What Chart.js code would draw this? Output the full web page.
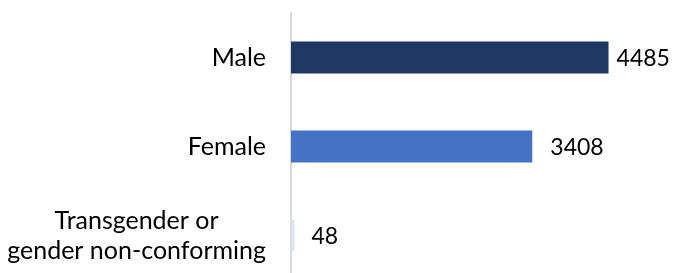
<!DOCTYPE html>
<html>
<head>
<meta charset="utf-8">
<script src="https://cdn.jsdelivr.net/npm/chart.js@4/dist/chart.umd.min.js"></script>
<style>
    html, body { margin: 0; padding: 0; background: #fff; overflow: hidden; }
    #wrap { position: relative; width: 683px; height: 280px; }
</style>
</head>
<body>
<div id="wrap"><canvas id="genderChart"></canvas></div>
<script>
const categories = [
    ['Male'],
    ['Female'],
    ['Transgender or', 'gender non-conforming'],
];

const counts = [4485, 3408, 48];

const barColors = ['#203864', '#4472C4', '#DAE3F3'];

// distance between bar end and its value label (as in the original)
const labelGaps = [8, 18, 17];

const fontFamily = 'Lato, "Open Sans", sans-serif';

// draws category names (multi-line ones centred on each other) and value labels
const labelPlugin = {
    id: 'labelPlugin',
    afterDatasetsDraw(chart) {
        const ctx = chart.ctx;
        const yScale = chart.scales.y;
        const area = chart.chartArea;
        const meta = chart.getDatasetMeta(0);

        ctx.save();
        ctx.fillStyle = '#000';
        ctx.font = '25px ' + fontFamily;
        ctx.textBaseline = 'middle';
        ctx.textAlign = 'center';

        const lineH = 30;
        const right = area.left - 25;
        chart.data.labels.forEach((lines, i) => {
            const y = yScale.getPixelForValue(i);
            const w = Math.max(...lines.map(l => ctx.measureText(l).width));
            const cx = right - w / 2;
            const top = y - (lines.length - 1) * lineH / 2;
            lines.forEach((l, j) => ctx.fillText(l, cx, top + j * lineH));
        });

        ctx.font = '23px ' + fontFamily;
        ctx.textAlign = 'left';
        meta.data.forEach((bar, i) => {
            const v = chart.data.datasets[0].data[i];
            ctx.fillText(String(v), bar.x + labelGaps[i], bar.y + 1);
        });
        ctx.restore();
    }
};

const config = {
    type: 'bar',
    data: {
        labels: categories,
        datasets: [{
            data: counts,
            backgroundColor: barColors,
            borderWidth: 0,
            categoryPercentage: 0.8,
            barPercentage: 0.45,
        }]
    },
    options: {
        indexAxis: 'y',
        responsive: true,
        maintainAspectRatio: false,
        animation: false,
        layout: {
            padding: { left: 291, right: 38, top: 13, bottom: 0 }
        },
        plugins: {
            legend: { display: false },
            tooltip: { enabled: false },
        },
        scales: {
            x: {
                display: false,
                min: 0,
                max: 5000,
            },
            y: {
                grid: { display: false, drawTicks: false },
                ticks: { display: false },
                border: { display: true, color: '#D9D9D9', width: 2 },
            },
        },
    },
    plugins: [labelPlugin],
};

const genderChart = new Chart(
    document.getElementById('genderChart'),
    config
);
</script>
</body>
</html>
